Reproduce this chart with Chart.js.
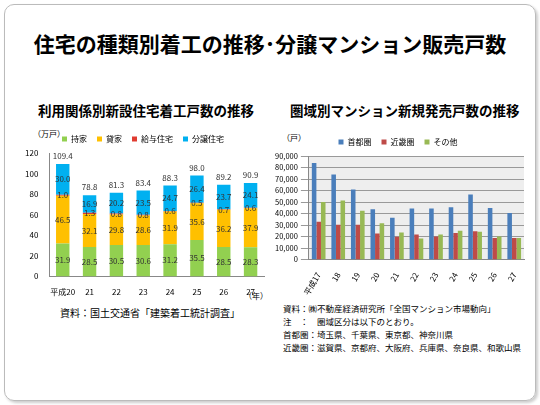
<!DOCTYPE html>
<html><head><meta charset="utf-8">
<script src="https://cdn.jsdelivr.net/npm/chart.js@4"></script>
<style>
body{margin:0;width:540px;height:405px;background:#fff;font-family:"Noto Sans CJK JP",sans-serif;overflow:hidden}
#page{position:absolute;left:4px;top:4px;width:530px;height:395px;border:1px solid #bbb;border-radius:10px;box-shadow:2px 2px 3px #ccc}
.t{position:absolute;white-space:nowrap;color:#000}
</style></head><body>
<div id="page"></div>
<div class="t" style="left:0;width:540px;text-align:center;top:28px;font-size:21px;font-weight:bold">住宅の種類別着工の推移･分譲マンション販売戸数</div>
<div class="t" style="left:38px;top:100px;font-size:13.5px;font-weight:bold">利用関係別新設住宅着工戸数の推移</div>
<div class="t" style="left:290px;top:100px;font-size:13.5px;font-weight:bold">圏域別マンション新規発売戸数の推移</div>
<div class="t" style="left:33px;top:128px;font-size:8px">（万戸）</div>
<div class="t" style="left:282px;top:132px;font-size:8px">（戸）</div>
<div class="t" style="left:244px;top:290px;font-size:8px">（年）</div>
<div class="t" style="left:60px;top:305px;font-size:10px">資料：国土交通省「建築着工統計調査」</div>
<div class="t" style="left:283px;top:302px;font-size:8.5px;line-height:13px">資料：㈱不動産経済研究所「全国マンション市場動向」<br>注　：　圏域区分は以下のとおり。<br>首都圏：埼玉県、千葉県、東京都、神奈川県<br>近畿圏：滋賀県、京都府、大阪府、兵庫県、奈良県、和歌山県</div>
<div style="position:absolute;left:22px;top:125px;width:250px;height:175px"><canvas id="c1"></canvas></div>
<div style="position:absolute;left:272px;top:128px;width:256px;height:172px"><canvas id="c2"></canvas></div>
<script>
const years1 = ["平成20","21","22","23","24","25","26","27"];
const mochiie = [31.9,28.5,30.5,30.6,31.2,35.5,28.5,28.3];
const kashiya = [46.5,32.1,29.8,28.6,31.9,35.6,36.2,37.9];
const kyuyo = [1.0,1.3,0.8,0.8,0.6,0.5,0.7,0.6];
const bunjo = [30.0,16.9,20.2,23.5,24.7,26.4,23.7,24.1];
const totals = [109.4,78.8,81.3,83.4,88.3,98.0,89.2,90.9];

const years2 = ["平成17","18","19","20","21","22","23","24","25","26","27"];
const shuto = [84000,74000,61000,43700,36400,44500,44500,45600,56500,44900,40400];
const kinki = [33000,30300,30300,22700,19900,21900,20000,23200,24700,18800,18900];
const sonota = [50000,51300,42500,31500,23500,18400,21800,25000,24200,20000,18700];

Chart.defaults.font = {family:"Noto Sans CJK JP", size:8};
Chart.defaults.color = "#000";

const labelPlugin = {
  id:"labels",
  afterDatasetsDraw(chart){
    const ctx = chart.ctx;
    ctx.save();
    ctx.font = "8px 'Noto Sans CJK JP'";
    ctx.textAlign = "center";
    ctx.textBaseline = "middle";
    ctx.fillStyle = "#333";
    chart.data.datasets.forEach((ds,i)=>{
      chart.getDatasetMeta(i).data.forEach((bar,j)=>{
        const p = bar.getProps(["x","y","base"],true);
        ctx.fillText(ds.data[j].toFixed(1), p.x, (p.y+p.base)/2);
      });
    });
    const meta = chart.getDatasetMeta(chart.data.datasets.length-1);
    meta.data.forEach((bar,j)=>{
      ctx.fillText(totals[j].toFixed(1), bar.x, bar.y-8);
    });
    ctx.restore();
  }
};

new Chart(document.getElementById("c1"), {
  type:"bar",
  data:{labels:years1, datasets:[
    {label:"持家", data:mochiie, backgroundColor:"#92d050"},
    {label:"貸家", data:kashiya, backgroundColor:"#ffc000"},
    {label:"給与住宅", data:kyuyo, backgroundColor:"#e03c31"},
    {label:"分譲住宅", data:bunjo, backgroundColor:"#00b0f0"}
  ]},
  options:{responsive:true, maintainAspectRatio:false, animation:false,
    datasets:{bar:{categoryPercentage:0.5, barPercentage:1}},
    layout:{padding:{right:8}},
    plugins:{legend:{labels:{boxWidth:5, boxHeight:5, padding:10, font:{size:8}}}, tooltip:{enabled:false}},
    scales:{
      x:{stacked:true, grid:{display:false}, border:{color:"#888"}, ticks:{maxRotation:0, minRotation:0, autoSkip:false, font:{size:8}}},
      y:{stacked:true, min:0, max:120, ticks:{stepSize:20}, grid:{display:false}, border:{color:"#888"}}
    }},
  plugins:[labelPlugin]
});

const bgPlugin = {
  id:"bg",
  beforeDraw(chart){
    const a = chart.chartArea, ctx = chart.ctx;
    ctx.save();
    ctx.fillStyle = "#eeeeee";
    ctx.fillRect(a.left, a.top, a.right-a.left, a.bottom-a.top);
    ctx.restore();
  }
};

new Chart(document.getElementById("c2"), {
  type:"bar",
  data:{labels:years2, datasets:[
    {label:"首都圏", data:shuto, backgroundColor:"#4a7ebb"},
    {label:"近畿圏", data:kinki, backgroundColor:"#be4b48"},
    {label:"その他", data:sonota, backgroundColor:"#98b954"}
  ]},
  options:{responsive:true, maintainAspectRatio:false, animation:false,
    datasets:{bar:{categoryPercentage:0.7, barPercentage:1}},
    layout:{padding:{right:4}},
    plugins:{legend:{labels:{boxWidth:5, boxHeight:5, padding:10, font:{size:8}}}, tooltip:{enabled:false}},
    scales:{
      x:{grid:{display:false}, border:{color:"#888"}, ticks:{maxRotation:60, minRotation:60, autoSkip:false, font:{size:8}}},
      y:{min:0, max:90000, ticks:{stepSize:10000, autoSkip:false, font:{size:7.5}, callback:v=>v.toLocaleString("en-US")}, grid:{color:"#999"}, border:{color:"#888"}}
    }},
  plugins:[bgPlugin]
});
</script>
</body></html>
